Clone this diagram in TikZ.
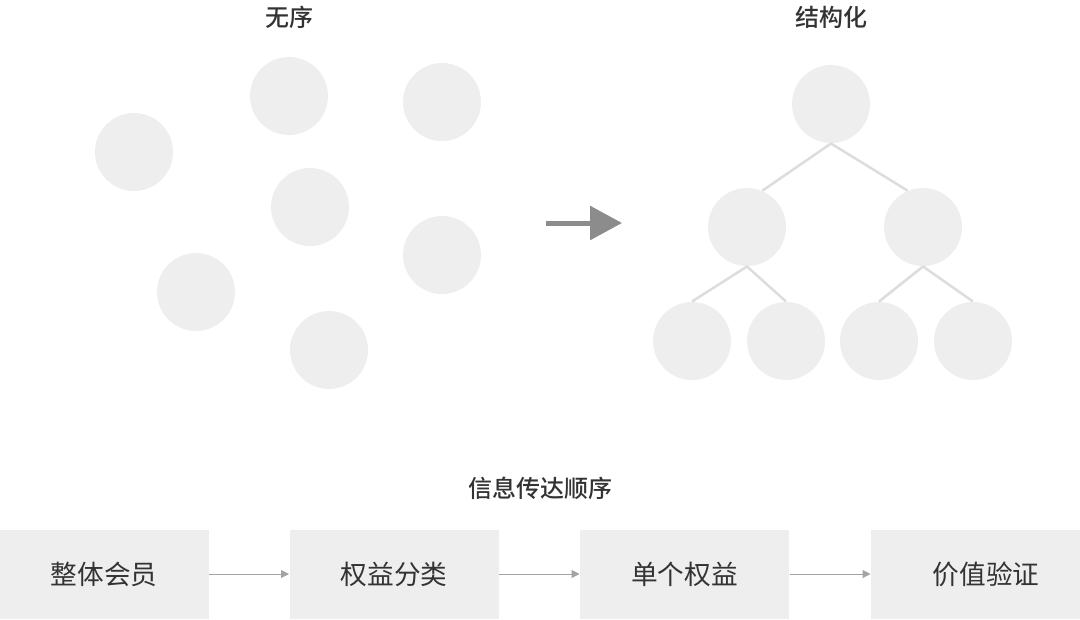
\documentclass[tikz,border=0pt]{standalone}
\usepackage{fontspec}
\newfontfamily\cjk{Noto Sans CJK SC}
\newfontfamily\cjkmed{Noto Sans CJK SC}[UprightFont=* Medium]
\usetikzlibrary{arrows.meta}

\definecolor{dotgray}{RGB}{238,238,238}
\definecolor{linegray}{RGB}{221,221,221}
\definecolor{arrgray}{RGB}{140,140,140}
\definecolor{txtgray}{RGB}{51,51,51}

\tikzset{
  every picture/.style={line width=0.75pt},
  ball/.style={circle, fill=dotgray, minimum size=58.5pt, inner sep=0pt},
  title/.style={font=\cjkmed\fontsize{18}{21}\selectfont, text=txtgray},
  stepbox/.style={fill=dotgray, minimum width=156.75pt, minimum height=66.75pt, inner sep=0pt, font=\cjk\fontsize{20}{24}\selectfont, text=txtgray},
  branch/.style={draw=linegray, line width=1.9pt},
  flow/.style={draw=arrgray!80, line width=0.75pt, -{Triangle[length=6pt,width=6pt]}}
}

\begin{document}
\begin{tikzpicture}[x=0.75pt,y=0.75pt,yscale=-1]
\path[use as bounding box] (0,0) rectangle (1080,619);

% Titles
\node[title] (tUnordered) at (289,17) {无序};
\node[title] (tStruct) at (831,17) {结构化};
\node[title] (tOrder) at (540,488) {信息传达顺序};

%Shape: Circles, unordered
\node[ball] (u1) at (134,152) {};
\node[ball] (u2) at (289,96) {};
\node[ball] (u3) at (442,102) {};
\node[ball] (u4) at (310,207) {};
\node[ball] (u5) at (442,255) {};
\node[ball] (u6) at (196,292) {};
\node[ball] (u7) at (329,350) {};

%Shape: Circles, tree
\node[ball] (root) at (831,104) {};
\node[ball] (mL) at (747,227) {};
\node[ball] (mR) at (923,227) {};
\node[ball] (l1) at (692,341) {};
\node[ball] (l2) at (786,341) {};
\node[ball] (l3) at (879,341) {};
\node[ball] (l4) at (973,341) {};

%Straight Lines, tree branches
\path[branch] (root.south) -- (mL.67) (root.south) -- (mR.113);
\path[branch] (mL.south) -- (l1.north) (mL.south) -- (l2.north);
\path[branch] (mR.south) -- (l3.north) (mR.south) -- (l4.north);

%Big arrow
\coordinate (arrS) at (546,223);
\coordinate (arrE) at (622,223);
\draw[arrgray, line width=3.75pt, -{Triangle[length=24pt,width=25pt]}] (arrS) -- (arrE);

%Rectangles, steps
\node[stepbox] (s1) at (104,574) {整体会员};
\node[stepbox] (s2) at (394,574) {权益分类};
\node[stepbox] (s3) at (684.5,574) {单个权益};
\node[stepbox, text width=156.75pt, align=center] (s4) at (975.5,574) {\hspace*{16pt}价值验证};

%Straight Lines, flow
\draw[flow] (s1) -- (s2);
\draw[flow] (s2) -- (s3);
\draw[flow] (s3) -- (s4);

\end{tikzpicture}
\end{document}
